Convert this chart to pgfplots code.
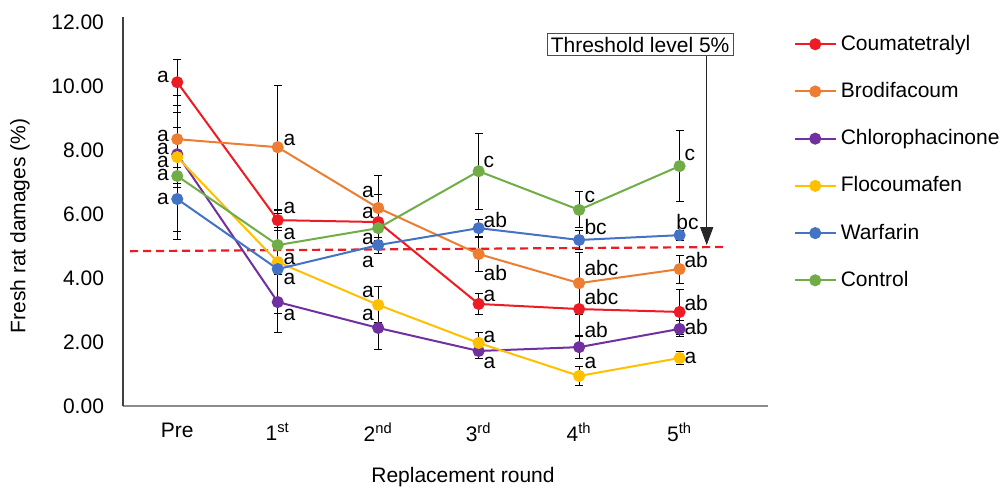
\documentclass[border=0pt]{standalone}
\usepackage{pgfplots}
\pgfplotsset{compat=1.18}
\usepackage{fontspec}
\setmainfont{Liberation Sans}
\usetikzlibrary{calc,arrows.meta}
\definecolor{cRed}{RGB}{237,28,36}
\definecolor{cOrange}{RGB}{237,125,49}
\definecolor{cPurple}{RGB}{112,48,160}
\definecolor{cYellow}{RGB}{255,192,0}
\definecolor{cBlue}{RGB}{68,114,196}
\definecolor{cGreen}{RGB}{112,173,71}
\newcommand{\fs}{\fontsize{10.5}{12.6}\selectfont}

\pgfplotstableread{
x y e
0 10.12 0.72
1 5.81 0.22
2 5.75 0.85
3 3.19 0.34
4 3.03 0.85
5 2.94 0.70
}\tCou
\pgfplotstableread{
x y e
0 8.34 1.38
1 8.09 1.94
2 6.19 1.03
3 4.75 0.55
4 3.84 0.97
5 4.28 0.44
}\tBro
\pgfplotstableread{
x y e
0 7.87 1.29
1 3.25 0.94
2 2.44 0.66
3 1.72 0.25
4 1.84 0.37
5 2.41 0.25
}\tChl
\pgfplotstableread{
x y e
0 7.78 0.94
1 4.50 1.60
2 3.16 0.56
3 1.97 0.34
4 0.94 0.30
5 1.50 0.20
}\tFlo
\pgfplotstableread{
x y e
0 6.47 1.00
1 4.28 0.16
2 5.03 0.25
3 5.56 0.28
4 5.19 0.30
5 5.34 0.16
}\tWar
\pgfplotstableread{
x y e
0 7.19 1.97
1 5.03 0.47
2 5.56 0.30
3 7.34 1.19
4 6.13 0.56
5 7.50 1.10
}\tCon

\pgfplotsset{
  ser/.style={color=#1, line width=1pt, mark=*, mark size=2.5pt,
    mark options={fill=#1, draw=#1, solid},
    error bars/.cd, y dir=both, y explicit,
    error bar style={black, line width=0.5pt},
    error mark options={rotate=90, black, mark size=2pt, line width=0.5pt}},
}

\begin{document}
\begin{tikzpicture}[font=\fs]
\begin{axis}[name=ax, scale only axis, width=322.5pt, height=194.5pt,
  xmin=-0.54, xmax=5.88, ymin=0, ymax=12.16,
  axis x line*=bottom, axis y line*=left,
  x axis line style={-, draw=black!45, line width=0.8pt},
  y axis line style={-, draw=black!75, line width=0.6pt},
  xtick={0,1,2,3,4,5},
  xticklabels={Pre,1\textsuperscript{st},2\textsuperscript{nd},3\textsuperscript{rd},4\textsuperscript{th},5\textsuperscript{th}},
  ytick={0,2,4,6,8,10,12},
  major tick length=0pt, tick style={draw=none},
  /pgf/number format/assume math mode=true,
  yticklabel style={/pgf/number format/fixed, /pgf/number format/fixed zerofill, /pgf/number format/precision=2, font=\fs, xshift=-6pt},
  xticklabel style={font=\fs, yshift=-5pt},
  clip=false,
  legend cell align=left,
  legend style={draw=none, fill=none, font=\fs, at={(rel axis cs:1.03,0.975)}, anchor=north west, row sep=10.5pt},
  legend image code/.code={\draw[mark repeat=2,mark phase=2] plot coordinates {(0pt,0pt) (10.25pt,0pt) (20.5pt,0pt)};},
]
\addplot[cRed, line width=1.1pt, dash pattern=on 4pt off 2.5pt, forget plot] coordinates {(-0.47,4.84) (5.43,4.97)};

\addplot[ser=cRed] table[x=x,y=y,y error=e]{\tCou};
\addlegendentry{Coumatetralyl}
\addplot[ser=cOrange] table[x=x,y=y,y error=e]{\tBro};
\addlegendentry{Brodifacoum}
\addplot[ser=cPurple] table[x=x,y=y,y error=e]{\tChl};
\addlegendentry{Chlorophacinone}
\addplot[ser=cYellow] table[x=x,y=y,y error=e]{\tFlo};
\addlegendentry{Flocoumafen}
\addplot[ser=cBlue] table[x=x,y=y,y error=e]{\tWar};
\addlegendentry{Warfarin}
\addplot[ser=cGreen] table[x=x,y=y,y error=e]{\tCon};
\addlegendentry{Control}

% significance letters
\begin{scope}[every node/.style={font=\fs, inner sep=0pt}]
% Pre
\node[anchor=east] at (axis cs:-0.08,10.30) {a};
\node[anchor=east] at (axis cs:-0.08,8.43) {a};
\node[anchor=east] at (axis cs:-0.08,8.03) {a};
\node[anchor=east] at (axis cs:-0.08,7.63) {a};
\node[anchor=east] at (axis cs:-0.08,7.23) {a};
\node[anchor=east] at (axis cs:-0.08,6.47) {a};
% 1st
\node[anchor=west] at (axis cs:1.055,8.31) {a};
\node[anchor=west] at (axis cs:1.055,6.19) {a};
\node[anchor=west] at (axis cs:1.055,5.38) {a};
\node[anchor=west] at (axis cs:1.055,4.59) {a};
\node[anchor=west] at (axis cs:1.055,3.97) {a};
\node[anchor=west] at (axis cs:1.055,2.84) {a};
% 2nd
\node[anchor=east] at (axis cs:1.96,6.69) {a};
\node[anchor=east] at (axis cs:1.96,6.03) {a};
\node[anchor=east] at (axis cs:1.96,5.22) {a};
\node[anchor=east] at (axis cs:1.96,4.50) {a};
\node[anchor=east] at (axis cs:1.96,3.56) {a};
\node[anchor=east] at (axis cs:1.96,2.84) {a};
% 3rd
\node[anchor=west] at (axis cs:3.045,7.63) {c};
\node[anchor=west] at (axis cs:3.045,5.81) {ab};
\node[anchor=west] at (axis cs:3.045,4.16) {ab};
\node[anchor=west] at (axis cs:3.045,3.44) {a};
\node[anchor=west] at (axis cs:3.045,2.16) {a};
\node[anchor=west] at (axis cs:3.045,1.34) {a};
% 4th
\node[anchor=west] at (axis cs:4.05,6.53) {c};
\node[anchor=west] at (axis cs:4.05,5.59) {bc};
\node[anchor=west] at (axis cs:4.05,4.31) {abc};
\node[anchor=west] at (axis cs:4.05,3.41) {abc};
\node[anchor=west] at (axis cs:4.05,2.38) {ab};
\node[anchor=west] at (axis cs:4.05,1.34) {a};
% 5th
\node[anchor=west] at (axis cs:5.045,7.84) {c};
\node[anchor=west] at (axis cs:4.965,5.75) {bc};
\node[anchor=west] at (axis cs:5.045,4.56) {ab};
\node[anchor=west] at (axis cs:5.045,3.22) {ab};
\node[anchor=west] at (axis cs:5.045,2.47) {ab};
\node[anchor=west] at (axis cs:5.045,1.50) {a};
\end{scope}

% threshold annotation
\node[draw=black!70, line width=0.5pt, inner sep=1.8pt, fill=white, font=\fs] at (axis cs:4.607,11.30) {Threshold level 5\%};
\draw[black!85, line width=0.6pt, -{Triangle[length=9pt,width=6.5pt]}] (axis cs:5.27,10.94) -- (axis cs:5.27,5.03);
\end{axis}
\node[rotate=90, font=\fs] at ($(ax.south west)+(-51.5pt,90pt)$) {Fresh rat damages (\%)};
\node[font=\fs] at ($(ax.south west)+(170pt,-35.5pt)$) {Replacement round};
\pgfresetboundingbox
\path ($(ax.south west)+(-61.5pt,-40.5pt)$) rectangle ($(ax.south west)+(441pt,203pt)$);
\end{tikzpicture}
\end{document}
